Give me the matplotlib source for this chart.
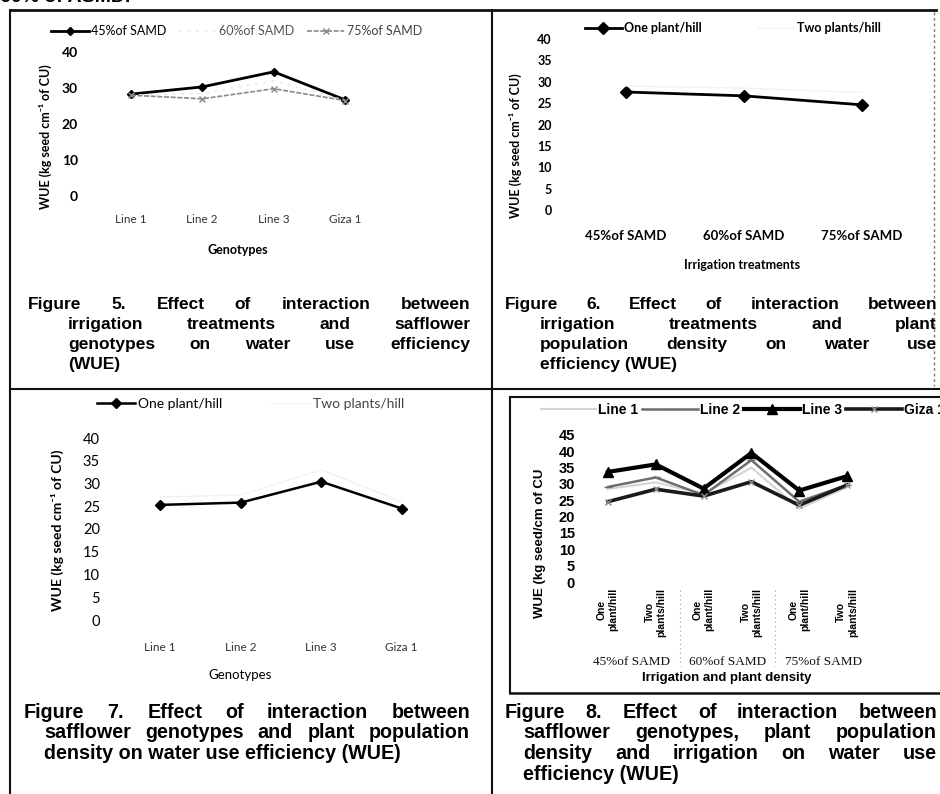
"""
Scanned page with four WUE interaction charts (Figures 5-8) and their captions.
Output: out.png
"""
import matplotlib
matplotlib.use("Agg")
import matplotlib.pyplot as plt
import matplotlib.transforms as mtransforms
from matplotlib.lines import Line2D

W, H = 940, 794

# ---- data ----
genotypes = ["Line 1", "Line 2", "Line 3", "Giza 1"]
irrigation = ["45%of SAMD", "60%of SAMD", "75%of SAMD"]
densities = ["One plant/hill", "Two plants/hill"]

# Figure 5: irrigation x genotype
wue5_45 = [28.3, 30.3, 34.5, 26.7]
wue5_60 = [28.0, 28.5, 32.0, 26.5]
wue5_75 = [28.0, 27.0, 29.8, 26.5]

# Figure 6: irrigation x density
wue6_one = [27.6, 26.7, 24.6]
wue6_two = [29.0, 28.5, 27.5]

# Figure 7: genotype x density
wue7_one = [25.3, 25.8, 30.4, 24.5]
wue7_two = [27.0, 27.5, 33.0, 26.0]

# Figure 8: genotype x density x irrigation
cats8 = ["One\nplant/hill", "Two\nplants/hill"] * 3
wue8_line1 = [28.5, 30.5, 27.0, 35.0, 22.5, 29.0]
wue8_line2 = [29.1, 32.0, 26.6, 37.3, 24.6, 29.7]
wue8_line3 = [33.7, 36.0, 28.6, 39.5, 28.0, 32.4]
wue8_giza = [24.6, 28.4, 26.3, 30.7, 23.5, 29.7]

CHART_FONT = ["Lato", "DejaVu Sans"]
ARIAL = "Liberation Sans"
YLAB = "WUE (kg seed cm\u207b\u00b9 of CU)"


def fx(px):
    return px / W


def fy(py):
    return 1 - py / H


def box(l, t, r, b):
    return [l / W, 1 - b / H, (r - l) / W, (b - t) / H]


def pt(px):
    return px * 72 / 100


fig = plt.figure(figsize=(9.4, 7.94), dpi=100)
fig.patch.set_facecolor("white")


def style_axes(ax, ymax, ystep, ypad, xpad, yfs, xfs, font=CHART_FONT, weight="bold"):
    for s in ax.spines.values():
        s.set_visible(False)
    ax.set_ylim(0, ymax)
    ax.set_yticks(range(0, ymax + 1, ystep))
    ax.tick_params(length=0)
    ax.tick_params(axis="y", pad=pt(ypad), labelsize=yfs)
    ax.tick_params(axis="x", pad=pt(xpad), labelsize=xfs)
    for lab in ax.get_yticklabels():
        lab.set_family(font)
        lab.set_fontweight(weight)
    for lab in ax.get_xticklabels():
        lab.set_family(font)
    ax.patch.set_alpha(0)


def place_labels(ax, xlabel, xl_pos, ylabel, yl_pos, xfs, yfs, font=CHART_FONT):
    ax.set_xlabel(xlabel, fontsize=xfs, fontweight="bold", family=font)
    ax.set_ylabel(ylabel, fontsize=yfs, fontweight="bold", family=font)
    ax.xaxis.set_label_coords(fx(xl_pos[0]), fy(xl_pos[1]), transform=fig.transFigure)
    ax.yaxis.set_label_coords(fx(yl_pos[0]), fy(yl_pos[1]), transform=fig.transFigure)
    ax.xaxis.label.set_va("center")
    ax.yaxis.label.set_va("center")


# ---- Figure 5 ----
ax5 = fig.add_axes(box(95, 52, 381, 196))
x4 = range(len(genotypes))
ax5.plot(x4, wue5_45, color="black", lw=2.0, marker="D", ms=4, label="45%of SAMD")
ax5.plot(x4, wue5_60, color="#ececec", lw=1.2, ls=(0, (2, 3)), label="60%of SAMD")
ax5.plot(x4, wue5_75, color="#8a8a8a", lw=1.2, ls=(0, (3, 1)), marker="x", ms=5,
         label="75%of SAMD")
ax5.set_xlim(-0.5, 3.5)
ax5.set_xticks(list(x4), genotypes)
style_axes(ax5, 40, 10, 17, 18, 10, 8.5)
for lab in ax5.get_xticklabels():
    lab.set_color("#333333")
place_labels(ax5, "Genotypes", (238, 250), YLAB, (45, 137), 9, 9)
leg = ax5.legend(loc="center left", bbox_to_anchor=(fx(40), fy(31)),
                 bbox_transform=fig.transFigure, ncol=3, frameon=False,
                 handlelength=3.0, handletextpad=0.2, columnspacing=1.0,
                 prop={"family": CHART_FONT, "size": 9})
for t, c in zip(leg.get_texts(), ["black", "#555555", "#444444"]):
    t.set_color(c)

# ---- Figure 6 ----
ax6 = fig.add_axes(box(567, 39, 921, 210))
x3 = range(len(irrigation))
ax6.plot(x3, wue6_one, color="black", lw=2.0, marker="D", ms=6, label=densities[0])
ax6.plot(x3, wue6_two, color="#f2f2f2", lw=1.0, label=densities[1])
ax6.set_xlim(-0.5, 2.5)
ax6.set_xticks(list(x3), irrigation)
style_axes(ax6, 40, 5, 15, 20, 9, 9.5)
for lab in ax6.get_xticklabels():
    lab.set_fontweight("bold")
place_labels(ax6, "Irrigation treatments", (742, 265), YLAB, (515, 146), 9, 9)
ax6.legend(loc="center left", bbox_to_anchor=(fx(574), fy(28)),
           bbox_transform=fig.transFigure, ncol=2, frameon=False,
           handlelength=2.9, handletextpad=0.2, columnspacing=4.5,
           prop={"family": CHART_FONT, "size": 9, "weight": "bold"})

# ---- Figure 7 ----
ax7 = fig.add_axes(box(120, 438, 442, 620))
ax7.plot(x4, wue7_one, color="black", lw=1.8, marker="D", ms=5, label=densities[0])
ax7.plot(x4, wue7_two, color="#f2f2f2", lw=1.0, label=densities[1])
ax7.set_xlim(-0.5, 3.5)
ax7.set_xticks(list(x4), genotypes)
style_axes(ax7, 40, 5, 20, 22, 10.5, 8.5, weight="normal")
for lab in ax7.get_xticklabels():
    lab.set_color("#333333")
place_labels(ax7, "Genotypes", (240, 675), YLAB, (57, 530), 9.5, 10)
ax7.xaxis.label.set_fontweight("normal")
leg = ax7.legend(loc="center left", bbox_to_anchor=(fx(84), fy(404)),
                 bbox_transform=fig.transFigure, ncol=2, frameon=False,
                 handlelength=2.8, handletextpad=0.2, columnspacing=3.5,
                 prop={"family": CHART_FONT, "size": 10})
leg.get_texts()[1].set_color("#444444")

# ---- Figure 8 ----
ax8 = fig.add_axes(box(584, 435, 871, 582))
x6 = range(len(cats8))
ax8.plot(x6, wue8_line1, color="#d4d4d4", lw=1.5, label="Line 1")
ax8.plot(x6, wue8_line2, color="#6e6e6e", lw=1.8, marker="_", ms=6, label="Line 2")
ax8.plot(x6, wue8_line3, color="black", lw=3.0, marker="^", ms=7, label="Line 3")
ax8.plot(x6, wue8_giza, color="#1a1a1a", lw=2.6, marker="x", ms=5, mec="#888888",
         label="Giza 1")
ax8.set_xlim(-0.5, 5.5)
ax8.set_xticks(list(x6), cats8)
style_axes(ax8, 45, 5, 9, 6, 10.5, 7.5, font=ARIAL)
for lab in ax8.get_xticklabels():
    lab.set_rotation(90)
    lab.set_fontweight("bold")
    lab.set_va("top")
    lab.set_ha("center")
    lab.set_multialignment("center")
place_labels(ax8, "Irrigation and plant density", (727, 678),
             "WUE (kg seed/cm of CU", (540, 543), 9.5, 9.5, font=ARIAL)
blend8 = mtransforms.blended_transform_factory(ax8.transData, fig.transFigure)
for i, name in enumerate(irrigation):
    ax8.text(2 * i + 0.5, fy(662), name, transform=blend8, ha="center", va="center",
             family="Liberation Serif", fontsize=9.5, color="#111111")
for sep in (1.5, 3.5):
    ax8.plot([sep, sep], [fy(590), fy(666)], transform=blend8, clip_on=False,
             color="#999999", lw=0.8, ls=(0, (1, 3)))
ax8.legend(loc="center left", bbox_to_anchor=(fx(528), fy(410)),
           bbox_transform=fig.transFigure, ncol=4, frameon=False,
           handlelength=4.0, handletextpad=0.15, columnspacing=0.3,
           prop={"family": ARIAL, "size": 10, "weight": "bold"})

# ---- page frame and rules ----
def rule(x0, y0, x1, y1, lw=1.5, color="#111111", ls="-"):
    fig.add_artist(Line2D([fx(x0), fx(x1)], [fy(y0), fy(y1)], transform=fig.transFigure,
                          lw=lw, color=color, ls=ls))


rule(10, 10, 936, 10, lw=2.0)
rule(10, 10, 10, 794, lw=1.5)
rule(492, 10, 492, 794, lw=1.5)
rule(10, 389, 940, 389, lw=1.5)
rule(934, 12, 934, 386, lw=1.0, color="#777777", ls=(0, (2, 2)))
rule(510, 397, 940, 397, lw=1.5)
rule(510, 397, 510, 693, lw=1.5)
rule(510, 693, 940, 693, lw=1.8)

fig.text(fx(0), fy(-3), "60% of ASMD.", ha="left", va="center", family=ARIAL,
         fontsize=14, fontweight="bold")

# ---- captions ----
renderer = fig.canvas.get_renderer()


def caption_line(text, x0, x1, y, size, justify=True):
    # y is the baseline, in pixels from the top
    style = dict(family=ARIAL, fontsize=size, fontweight="bold", color="black",
                 ha="left", va="baseline")
    if not justify:
        fig.text(fx(x0), fy(y), text, **style)
        return
    words = text.split()
    items = [fig.text(0, fy(y), w, **style) for w in words]
    widths = [t.get_window_extent(renderer).width for t in items]
    gap = (x1 - x0 - sum(widths)) / max(len(words) - 1, 1)
    if gap < 4:
        # too wide for the column: shrink this line a little
        scale = (x1 - x0 - 4 * (len(words) - 1)) / sum(widths)
        for t in items:
            t.set_fontsize(size * scale)
        widths = [w * scale for w in widths]
        gap = (x1 - x0 - sum(widths)) / max(len(words) - 1, 1)
    x = x0
    for t, w in zip(items, widths):
        t.set_x(fx(x))
        x += w + gap


captions = [
    (28, 68, 470, 309, 20, 12.5, ["Figure 5. Effect of interaction between",
                                  "irrigation treatments and safflower",
                                  "genotypes on water use efficiency",
                                  "(WUE)"]),
    (505, 540, 937, 309, 20, 12.5, ["Figure 6. Effect of interaction between",
                                    "irrigation treatments and plant",
                                    "population density on water use",
                                    "efficiency (WUE)"]),
    (24, 44, 470, 718, 20.5, 14.2, ["Figure 7. Effect of interaction between",
                                    "safflower genotypes and plant population",
                                    "density on water use efficiency (WUE)"]),
    (505, 523, 937, 718, 20.5, 14.2, ["Figure 8. Effect of interaction between",
                                      "safflower genotypes, plant population",
                                      "density and irrigation on water use",
                                      "efficiency (WUE)"]),
]
for first_x, indent_x, right_x, y0, step, size, lines in captions:
    for i, line in enumerate(lines):
        x0 = first_x if i == 0 else indent_x
        last = i == len(lines) - 1
        caption_line(line, x0, right_x, y0 + step * i, size, justify=not last)

fig.savefig("out.png", dpi=100, facecolor="white")
plt.close(fig)
